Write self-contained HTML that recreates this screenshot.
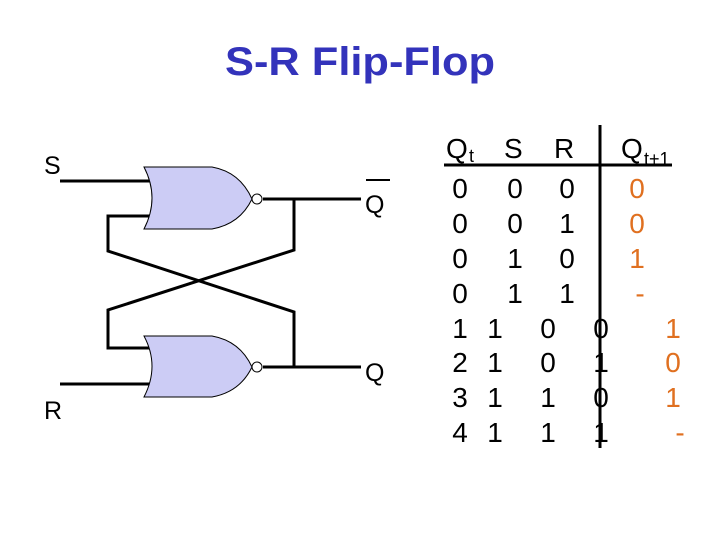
<!DOCTYPE html>
<html><head><style>body{margin:0;background:#fff}svg{display:block}</style></head>
<body>
<svg width="720" height="540" viewBox="0 0 720 540" xmlns="http://www.w3.org/2000/svg" font-family="Liberation Sans, Arial, sans-serif">
<text x="225" y="75" font-size="40" font-weight="bold" fill="#3333bb" textLength="270" lengthAdjust="spacingAndGlyphs">S-R Flip-Flop</text>
<g stroke="#000" stroke-width="3" fill="none">
<line x1="60" y1="181" x2="155" y2="181"/>
<polyline points="155,216 108,216 108,251 294,312 294,367 263,367"/>
<polyline points="263,199 361,199"/>
<polyline points="294,199 294,250 108,310 108,348 155,348"/>
<line x1="60" y1="384" x2="155" y2="384"/>
<line x1="263" y1="367" x2="361" y2="367"/>
</g>
<g fill="#ccccf5" stroke="#000" stroke-width="1">
<path d="M144,167 L212,167 Q240,172 252,199 Q240,224 212,229 L144,229 Q160,198 144,167 Z"/>
<path d="M144,336 L212,336 Q240,341 252,367 Q240,392 212,397 L144,397 Q160,366 144,336 Z"/>
</g>
<g fill="#fff" stroke="#000" stroke-width="1">
<circle cx="257" cy="199" r="5"/>
<circle cx="257" cy="367" r="5"/>
</g>
<g font-size="25" fill="#000">
<text x="44" y="174">S</text>
<text x="44" y="419">R</text>
<text x="365" y="213">Q</text>
<text x="365" y="381">Q</text>
</g>
<line x1="366" y1="180" x2="390" y2="180" stroke="#000" stroke-width="2"/>
<g stroke="#000" stroke-width="3">
<line x1="444" y1="165" x2="672" y2="165"/>
<line x1="600" y1="125" x2="600" y2="448"/>
</g>
<g font-size="28" fill="#000">
<text x="446" y="158">Q</text><text x="469" y="162" font-size="18">t</text>
<text x="504" y="158">S</text>
<text x="554" y="158">R</text>
<text x="621" y="158">Q</text><text x="644" y="165" font-size="18">t+1</text>
</g>
<g font-size="28" fill="#000" text-anchor="middle">
<text x="460" y="198">0</text><text x="515" y="198">0</text><text x="567" y="198">0</text>
<text x="460" y="233">0</text><text x="515" y="233">0</text><text x="567" y="233">1</text>
<text x="460" y="268">0</text><text x="515" y="268">1</text><text x="567" y="268">0</text>
<text x="460" y="303">0</text><text x="515" y="303">1</text><text x="567" y="303">1</text>
<text x="460" y="338">1</text><text x="495" y="338">1</text><text x="548" y="338">0</text><text x="601" y="338">0</text>
<text x="460" y="372">2</text><text x="495" y="372">1</text><text x="548" y="372">0</text><text x="601" y="372">1</text>
<text x="460" y="407">3</text><text x="495" y="407">1</text><text x="548" y="407">1</text><text x="601" y="407">0</text>
<text x="460" y="442">4</text><text x="495" y="442">1</text><text x="548" y="442">1</text><text x="601" y="442">1</text>
</g>
<g font-size="28" fill="#e07020" text-anchor="middle">
<text x="637" y="198">0</text>
<text x="637" y="233">0</text>
<text x="637" y="268">1</text>
<text x="640" y="303">-</text>
<text x="673" y="338">1</text>
<text x="673" y="372">0</text>
<text x="673" y="407">1</text>
<text x="680" y="442">-</text>
</g>
</svg>
</body></html>
